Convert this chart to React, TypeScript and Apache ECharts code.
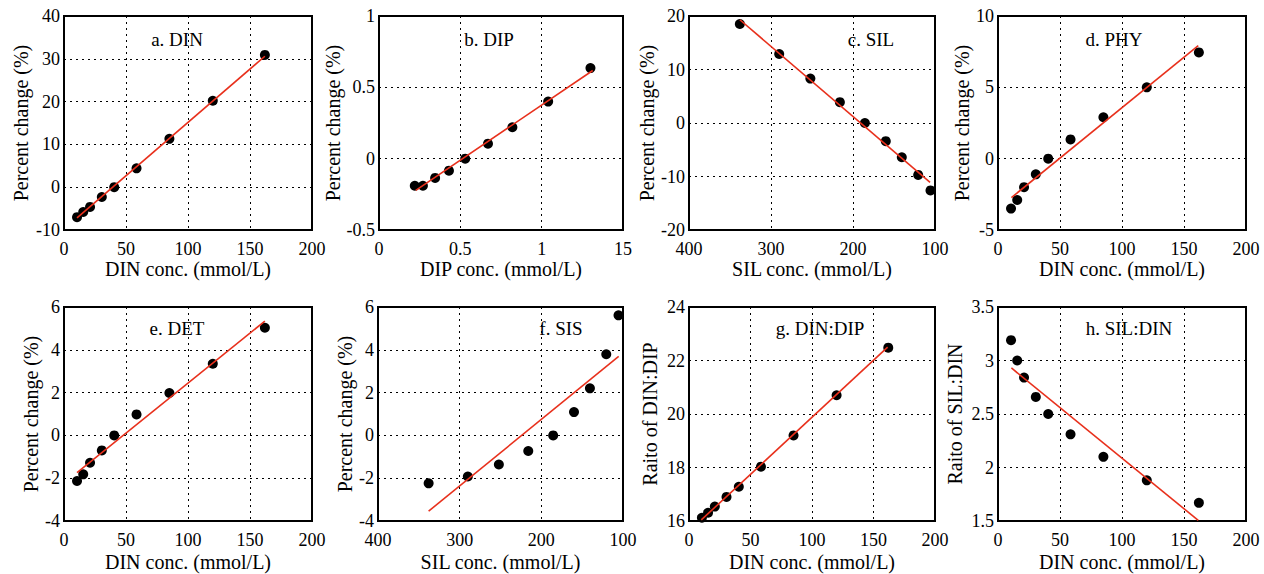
import React, { useEffect, useRef } from "react";
import * as echarts from "echarts";

const dinConc = [10.5, 15.5, 21, 30.5, 40.5, 58.5, 85, 120, 162];
const dipConc = [0.22, 0.27, 0.345, 0.43, 0.53, 0.67, 0.82, 1.04, 1.3];
const silConc = [338, 290, 252, 216, 185.5, 160, 140.5, 120.5, 105.5];

const dinChange = [-7.0, -5.8, -4.6, -2.3, 0, 4.4, 11.3, 20.2, 30.9];
const dipChange = [-0.19, -0.19, -0.135, -0.084, 0, 0.105, 0.22, 0.4, 0.635];
const silChange = [18.5, 12.9, 8.3, 3.9, 0, -3.4, -6.4, -9.7, -12.6];
const phyChange = [-3.5, -2.9, -2.0, -1.1, 0, 1.35, 2.9, 5.0, 7.45];
const detChange = [-2.13, -1.82, -1.28, -0.7, 0, 0.98, 1.98, 3.35, 5.03];
const sisChange = [-2.24, -1.92, -1.36, -0.73, 0, 1.09, 2.2, 3.79, 5.61];
const dinDipRatio = [16.12, 16.31, 16.54, 16.9, 17.28, 18.03, 19.2, 20.7, 22.48];
const silDinRatio = [3.19, 3.0, 2.84, 2.66, 2.5, 2.31, 2.1, 1.88, 1.67];

const fitA = [[10.5, -7.15], [162, 30.6]];
const fitB = [[0.226, -0.222], [1.314, 0.618]];
const fitC = [[338, 19.3], [106, -11.1]];
const fitD = [[10.8, -2.73], [161.5, 7.93]];
const fitE = [[10.5, -1.74], [162, 5.34]];
const fitF = [[338, -3.54], [105.3, 3.69]];
const fitG = [[10, 16.04], [161.5, 22.5]];
const fitH = [[10.8, 2.93], [161.5, 1.506]];

const panelTitles = ["a. DIN", "b. DIP", "c. SIL", "d. PHY", "e. DET", "f. SIS", "g. DIN:DIP", "h. SIL:DIN"];
const xNames = [
  "DIN conc. (mmol/L)", "DIP conc. (mmol/L)", "SIL conc. (mmol/L)", "DIN conc. (mmol/L)",
  "DIN conc. (mmol/L)", "SIL conc. (mmol/L)", "DIN conc. (mmol/L)", "DIN conc. (mmol/L)",
];
const yNames = [
  "Percent change (%)", "Percent change (%)", "Percent change (%)", "Percent change (%)",
  "Percent change (%)", "Percent change (%)", "Raito of DIN:DIP", "Raito of SIL:DIN",
];

const FONT = "Liberation Serif, Times New Roman, serif";

export default function App() {
  const ref = useRef<HTMLDivElement>(null);
  useEffect(() => {
    if (!ref.current) return;
    const chart = echarts.init(ref.current, undefined, { renderer: "svg" });

    const layouts = [
      { left: 64, top: 16, width: 248, height: 214, yGap: 33, xGap: 29, tx: 177, ty: 39 },
      { left: 379, top: 16, width: 244, height: 214, yGap: 34, xGap: 29, tx: 489, ty: 39 },
      { left: 689, top: 16, width: 246, height: 214, yGap: 29, xGap: 29, tx: 871, ty: 39 },
      { left: 998, top: 16, width: 248, height: 214, yGap: 25, xGap: 29, tx: 1114, ty: 39 },
      { left: 64, top: 307, width: 248, height: 214, yGap: 23, xGap: 31, tx: 177, ty: 328 },
      { left: 378, top: 307, width: 245, height: 214, yGap: 23, xGap: 31, tx: 561, ty: 328 },
      { left: 689, top: 307, width: 246, height: 214, yGap: 29, xGap: 31, tx: 820, ty: 328 },
      { left: 998, top: 307, width: 248, height: 214, yGap: 33, xGap: 31, tx: 1129, ty: 328 },
    ];

    const xCfg = [
      { min: 0, max: 200, interval: 50, inverse: false },
      { min: 0, max: 1.5, interval: 0.5, inverse: false },
      { min: 100, max: 400, interval: 100, inverse: true },
      { min: 0, max: 200, interval: 50, inverse: false },
      { min: 0, max: 200, interval: 50, inverse: false },
      { min: 100, max: 400, interval: 100, inverse: true },
      { min: 0, max: 200, interval: 50, inverse: false },
      { min: 0, max: 200, interval: 50, inverse: false },
    ];
    const yCfg = [
      { min: -10, max: 40, interval: 10 },
      { min: -0.5, max: 1, interval: 0.5 },
      { min: -20, max: 20, interval: 10 },
      { min: -5, max: 10, interval: 5 },
      { min: -4, max: 6, interval: 2 },
      { min: -4, max: 6, interval: 2 },
      { min: 16, max: 24, interval: 2 },
      { min: 1.5, max: 3.5, interval: 0.5 },
    ];
    const xs = [dinConc, dipConc, silConc, dinConc, dinConc, silConc, dinConc, dinConc];
    const ys = [dinChange, dipChange, silChange, phyChange, detChange, sisChange, dinDipRatio, silDinRatio];
    const fits = [fitA, fitB, fitC, fitD, fitE, fitF, fitG, fitH];

    const split = { show: true, lineStyle: { color: "#000", width: 1, type: [2, 4] as any } };
    const labelStyle = { color: "#000", fontFamily: FONT, fontSize: 18 };
    const nameStyle = { color: "#000", fontFamily: FONT, fontSize: 20 };

    const grid = layouts.map((l) => ({
      left: l.left, top: l.top, width: l.width, height: l.height,
      show: true, borderColor: "#000", borderWidth: 2, backgroundColor: "transparent",
    }));
    const xAxis = layouts.map((l, i) => ({
      type: "value", gridIndex: i, ...xCfg[i],
      name: xNames[i], nameLocation: "middle", nameGap: l.xGap, nameTextStyle: nameStyle,
      axisLine: { show: false }, axisTick: { show: false },
      axisLabel: {
        ...labelStyle, margin: 10, showMinLabel: true, showMaxLabel: true,
        formatter: (v: number) => (i === 1 && v === 1.5 ? "15" : String(v)),
      },
      splitLine: split,
    }));
    const yAxis = layouts.map((l, i) => ({
      type: "value", gridIndex: i, ...yCfg[i],
      name: yNames[i], nameLocation: "middle", nameGap: l.yGap, nameTextStyle: nameStyle,
      axisLine: { show: false }, axisTick: { show: false },
      axisLabel: { ...labelStyle, margin: 4, showMinLabel: true, showMaxLabel: true },
      splitLine: split,
    }));
    const series: any[] = [];
    layouts.forEach((_, i) => {
      series.push({
        type: "scatter", xAxisIndex: i, yAxisIndex: i, symbolSize: 10,
        itemStyle: { color: "#000", opacity: 1 }, z: 3,
        data: xs[i].map((x, k) => [x, ys[i][k]]),
      });
      series.push({
        type: "line", xAxisIndex: i, yAxisIndex: i, symbol: "none", z: 4,
        lineStyle: { color: "#e8301c", width: 1.6 },
        data: fits[i],
      });
    });
    const graphic = layouts.map((l, i) => ({
      type: "text", x: l.tx, y: l.ty, z: 10,
      style: {
        text: panelTitles[i], fill: "#000", font: `19px ${FONT}`,
        textAlign: "center", textVerticalAlign: "middle",
      },
    }));

    chart.setOption({
      animation: false,
      backgroundColor: "#fff",
      grid, xAxis, yAxis, series, graphic,
    } as any);
    return () => chart.dispose();
  }, []);
  return (
    <div
      ref={ref}
      style={{ position: "fixed", left: 0, top: 0, width: 1264, height: 574 }}
    />
  );
}
